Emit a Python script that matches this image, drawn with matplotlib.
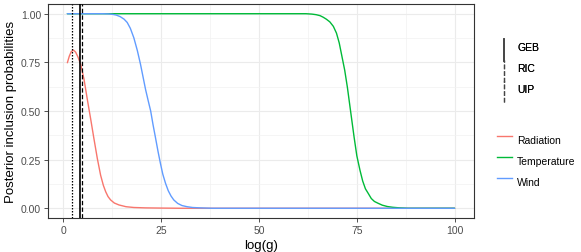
import matplotlib
matplotlib.use("Agg")
import matplotlib.pyplot as plt
from matplotlib.lines import Line2D
from matplotlib.legend_handler import HandlerBase

plt.rcParams["font.family"] = ["Liberation Sans", "DejaVu Sans"]

# posterior inclusion probabilities vs log(g)
rad_x = [1, 1.5, 2, 2.55, 3.1, 3.7, 4.4, 5.26, 6.1, 6.96, 7.8, 8.67, 9.5, 10.2,
         10.8, 11.4, 12.05, 13, 14.2, 16, 18, 21, 25, 30, 100]
rad_y = [0.748, 0.782, 0.805, 0.813, 0.803, 0.778, 0.74, 0.663, 0.56, 0.459, 0.357,
         0.255, 0.17, 0.118, 0.085, 0.06, 0.043, 0.027, 0.017, 0.008, 0.004, 0.002,
         0.001, 0.0, 0.0]

temp_x = [1, 62, 63.5, 64.6, 65.6, 66.4, 67.2, 68.1, 69, 69.8, 70.5, 71.1, 71.9,
          72.6, 73.4, 74.3, 75, 75.8, 76.5, 77.2, 77.9, 78.7, 79.5, 80.4, 81.5,
          82.8, 84.2, 86, 88, 100]
temp_y = [1, 1, 0.998, 0.995, 0.99, 0.982, 0.972, 0.958, 0.935, 0.9, 0.85, 0.79,
          0.71, 0.62, 0.50, 0.366, 0.27, 0.196, 0.14, 0.10, 0.077, 0.05, 0.035,
          0.026, 0.016, 0.009, 0.005, 0.002, 0.0, 0.0]

wind_x = [1, 10, 11.5, 12.5, 13.5, 14.5, 15.5, 16.3, 17.1, 18, 18.9, 19.7, 20.4,
          21, 21.7, 22.3, 22.9, 23.5, 24.2, 24.8, 25.4, 26.1, 26.8, 27.5, 28.2,
          29.2, 30.3, 31.6, 33, 35, 38, 100]
wind_y = [1, 1, 0.999, 0.997, 0.993, 0.985, 0.972, 0.955, 0.925, 0.876, 0.81, 0.74,
          0.67, 0.61, 0.55, 0.50, 0.43, 0.366, 0.29, 0.23, 0.175, 0.128, 0.09,
          0.063, 0.043, 0.025, 0.014, 0.008, 0.004, 0.002, 0.0, 0.0]

series = [("Radiation", rad_x, rad_y, "#F8766D"),
          ("Temperature", temp_x, temp_y, "#00BA38"),
          ("Wind", wind_x, wind_y, "#619CFF")]

# log(g) of the reference priors
prior_names = ["GEB", "RIC", "UIP"]
prior_logg = [4.15, 2.20, 4.75]
prior_styles = ["-", (0, (1.2, 1.2)), (0, (3.5, 1.8))]

x_ticks = [0, 25, 50, 75, 100]
y_ticks = [0.0, 0.25, 0.5, 0.75, 1.0]


class VLineHandler(HandlerBase):
    """Vertical key, as ggplot draws for geom_vline."""
    def create_artists(self, legend, orig_handle, xdescent, ydescent,
                       width, height, fontsize, trans):
        xc = width / 2 - xdescent
        y0 = -ydescent - 2.5
        ln = Line2D([xc, xc], [y0, y0 + height + 0.5],
                    color="#444444", linewidth=orig_handle.get_linewidth(),
                    linestyle=orig_handle.get_linestyle())
        ln.set_transform(trans)
        return [ln]


fig = plt.figure(figsize=(5.81, 2.53), dpi=100)
ax = fig.add_axes([0.0826, 0.1344, 0.7332, 0.8459])

for name, xs, ys, col in series:
    ax.plot(xs, ys, color=col, linewidth=1.0, label=name, zorder=3,
            solid_capstyle="round", solid_joinstyle="round")

vhandles = []
for name, xv, ls in zip(prior_names, prior_logg, prior_styles):
    h = ax.axvline(xv, color="black", linestyle=ls,
                   linewidth=1.2 if ls == "-" else 0.9, zorder=4)
    vhandles.append(h)

ax.set_xlim(-3.95, 104.95)
ax.set_ylim(-0.05, 1.05)
ax.set_xticks(x_ticks)
ax.set_xticklabels([str(v) for v in x_ticks])
ax.set_yticks(y_ticks)
ax.set_yticklabels([f"{v:.2f}" for v in y_ticks])
ax.set_xticks([12.5, 37.5, 62.5, 87.5], minor=True)
ax.set_yticks([0.125, 0.375, 0.625, 0.875], minor=True)
ax.grid(which="major", color="#EBEBEB", linewidth=0.8)
ax.grid(which="minor", color="#F2F2F2", linewidth=0.5)
ax.set_axisbelow(True)
ax.tick_params(which="major", length=3, width=0.6, color="#333333",
               labelsize=7.5, labelcolor="#4D4D4D", pad=2)
ax.tick_params(which="minor", length=0)
for sp in ax.spines.values():
    sp.set_color("#333333")
    sp.set_linewidth(0.8)

ax.set_xlabel("log(g)", fontsize=9.5, labelpad=3)
ax.set_ylabel("Posterior inclusion probabilities", fontsize=9.5, labelpad=3)

leg1 = fig.legend(vhandles, prior_names, loc="upper left",
                  bbox_to_anchor=(0.855, 0.852), frameon=False, fontsize=7.5,
                  handler_map={Line2D: VLineHandler()}, handlelength=1.45,
                  handleheight=2.7, labelspacing=0.0, handletextpad=0.5,
                  borderpad=0, borderaxespad=0)
leg2 = fig.legend([Line2D([], [], color=c, linewidth=1.0) for _, _, _, c in series],
                  [s[0] for s in series], loc="upper left",
                  bbox_to_anchor=(0.855, 0.484), frameon=False, fontsize=7.5,
                  handlelength=1.45, handleheight=2.7, labelspacing=0.0,
                  handletextpad=0.5, borderpad=0, borderaxespad=0)
fig.add_artist(leg1)

fig.savefig("out.png", dpi=100)
